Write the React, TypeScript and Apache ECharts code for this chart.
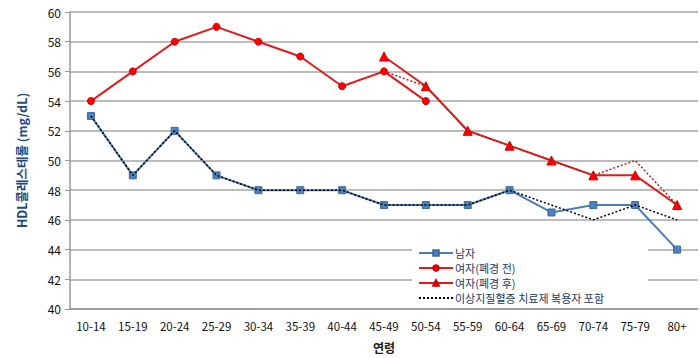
import React, { useEffect, useRef } from "react";
import * as echarts from "echarts";

const categories = ["10-14", "15-19", "20-24", "25-29", "30-34", "35-39", "40-44", "45-49", "50-54", "55-59", "60-64", "65-69", "70-74", "75-79", "80+"];
const male = [53, 49, 52, 49, 48, 48, 48, 47, 47, 47, 48, 46.5, 47, 47, 44];
const femalePre = [54, 56, 58, 59, 58, 57, 55, 56, 54, null, null, null, null, null, null];
const femalePost = [null, null, null, null, null, null, null, 57, 55, 52, 51, 50, 49, 49, 47];
const maleMed = [53, 49, 52, 49, 48, 48, 48, 47, 47, 47, 48, 47, 46, 47, 46];
const femaleMed = [null, null, null, null, null, null, null, 56, 55, 52, 51, 50, 49, 50, 47];

const FONT = "'Noto Sans CJK KR', 'Noto Sans', sans-serif";

export default function App() {
  const ref = useRef<HTMLDivElement>(null);
  useEffect(() => {
    if (!ref.current) return;
    const chart = echarts.init(ref.current, null, { renderer: "svg" });
    chart.setOption({
      animation: false,
      textStyle: { fontFamily: FONT },
      grid: { left: 70, right: 2, top: 12, bottom: 48 },
      legend: {
        orient: "vertical",
        left: 412,
        top: 245,
        backgroundColor: "#ffffff",
        padding: [2, 44, 4, 6],
        itemWidth: 34,
        itemHeight: 7,
        itemGap: 3,
        textStyle: { fontSize: 11, lineHeight: 12, color: "#1F3864", fontFamily: FONT, padding: [0, 0, 0, -3] },
        data: [
          "남자",
          "여자(폐경 전)",
          "여자(폐경 후)",
          { name: "이상지질혈증 치료제 복용자 포함", itemStyle: { opacity: 0 } },
        ],
      },
      xAxis: {
        type: "category",
        data: categories,
        boundaryGap: true,
        name: "연령",
        nameLocation: "middle",
        nameGap: 32,
        nameTextStyle: { fontSize: 12, color: "#222", fontWeight: "bold", fontFamily: FONT },
        axisLine: { lineStyle: { color: "#999", width: 1.5 } },
        axisTick: { show: false },
        axisLabel: { fontSize: 11.5, color: "#111", margin: 11, fontFamily: FONT },
      },
      yAxis: {
        type: "value",
        min: 40,
        max: 60,
        interval: 2,
        name: "HDL콜레스테롤 (mg/dL)",
        nameLocation: "middle",
        nameGap: 42,
        nameTextStyle: { fontSize: 12.5, color: "#1F497D", fontWeight: "bold", fontFamily: FONT },
        axisLine: { show: true, lineStyle: { color: "#999", width: 1.5 } },
        axisTick: { show: true, length: 5, lineStyle: { color: "#999" } },
        axisLabel: { fontSize: 12, color: "#111", margin: 9, fontFamily: FONT },
        splitLine: { lineStyle: { color: "#A6A6A6", width: 1.5 } },
      },
      series: [
        {
          name: "남자",
          type: "line",
          data: male,
          symbol: "rect",
          symbolSize: 7,
          lineStyle: { color: "#4A7EBB", width: 2 },
          itemStyle: { color: "#4F81BD", borderColor: "#3A6BA5", borderWidth: 1 },
          z: 2,
        },
        {
          name: "여자(폐경 전)",
          type: "line",
          data: femalePre,
          symbol: "circle",
          symbolSize: 7,
          lineStyle: { color: "#E41A1A", width: 2 },
          itemStyle: { color: "#FF0000", borderColor: "#D00000", borderWidth: 1 },
          z: 2,
        },
        {
          name: "여자(폐경 후)",
          type: "line",
          data: femalePost,
          symbol: "triangle",
          symbolSize: 9,
          lineStyle: { color: "#E41A1A", width: 2 },
          itemStyle: { color: "#FF0000", borderColor: "#D00000", borderWidth: 1 },
          z: 2,
        },
        {
          name: "이상지질혈증 치료제 복용자 포함",
          type: "line",
          data: maleMed,
          symbol: "none",
          lineStyle: { color: "#000000", width: 1.5, type: [2, 2] },
          itemStyle: { color: "#000000" },
          z: 3,
        },
        {
          name: "여자 치료제 포함",
          type: "line",
          data: femaleMed,
          symbol: "none",
          lineStyle: { color: "#B3261E", width: 1.5, type: [2, 2] },
          itemStyle: { color: "#B3261E" },
          z: 3,
        },
      ],
    });
    return () => chart.dispose();
  }, []);
  return <div ref={ref} style={{ width: 700, height: 358, position: "absolute", left: 0, top: 0 }} />;
}
